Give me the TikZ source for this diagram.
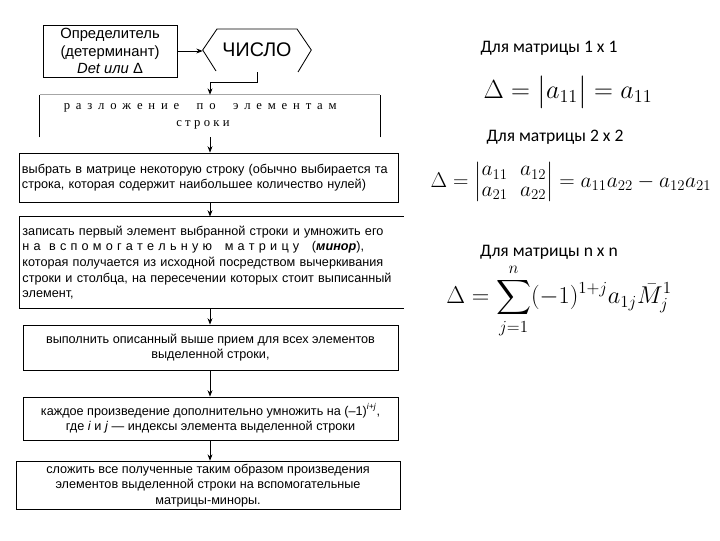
\documentclass[tikz,border=0pt]{standalone}
\usepackage{fontspec}
\usepackage{amsmath}
\usepackage{graphicx}
\usepackage{tikz}
\usetikzlibrary{arrows.meta,positioning,calc}
\newfontfamily\flowfont{Liberation Sans}
\newfontfamily\serffont{Liberation Serif}
\newfontfamily\calfont{Carlito}
\tikzset{
  stepbox/.style={rectangle, draw=black, line width=0.6pt, inner sep=2pt,
                  font=\flowfont\fontsize{9}{11.1}\selectfont},
  flow/.style={-{Stealth[length=4.5pt,width=3.5pt]}, line width=0.6pt, black},
  caption/.style={font=\calfont\fontsize{12.5}{14}\selectfont},
  formula/.style={font=\LARGE, inner sep=0pt},
}

\begin{document}
\begin{tikzpicture}[x=0.025cm, y=-0.025cm]
\useasboundingbox (0,0) rectangle (720,540);

% ── top row: definition and result ─────────────────────────
\node[stepbox, minimum width=3.35cm, minimum height=1.3cm, align=center,
      font=\flowfont\fontsize{10.5}{12.5}\selectfont] (det) at (110,51)
      {Определитель\\(детерминант)\\\textit{Det или} Δ};
\node[minimum width=2.7cm, minimum height=1.1cm,
      font=\flowfont\fontsize{14}{16}\selectfont] (chislo) at (257,50) {ЧИСЛО};
\draw[line width=0.6pt] (216,71) -- (chislo.west) -- (217,29) -- (297,29)
      -- (chislo.east) -- (298,72);
\draw[flow] (det.east) -- (det.east -| chislo.west);

% ── expansion header (open box) ───────────────────────────
\node[minimum width=8.5cm, minimum height=1.05cm, align=center,
      font=\serffont\fontsize{9}{12}\selectfont] (razl) at (210,116)
      {\hspace*{-14pt}\makebox[194pt][s]{р а з л о ж е н и е \ \ п о \ \ э л е м е н т а м}\\
       \hspace*{-10pt}\makebox[38pt][s]{с т р о к и}};
\draw[line width=0.6pt] (razl.south west) -- (razl.north west);
\draw[line width=0.6pt] (razl.south east) -- (razl.north east);
\draw[black!35] (razl.north west) -- (razl.north east);
\draw[flow] (chislo.south) -- ++(0,10) -| (razl.north);

% ── steps ──────────────────────────────────────────────────
\node[stepbox, minimum width=9.45cm, minimum height=1.225cm,
      text width=9.35cm, align=left] (choose) at (209,177.5)
      {выбрать в матрице некоторую строку (обычно выбирается та\\
       строка, которая содержит наибольшее количество нулей)};
\node[stepbox, draw=none, minimum width=9.575cm, minimum height=2.275cm,
      text width=9.45cm, align=left] (minor) at (211.5,262.5)
      {записать первый элемент выбранной строки и умножить его\\
       \makebox[0.975\linewidth][s]{н а \ в с п о м о г а т е л ь н у ю \ \ м а т р и ц у \ \ (\textbf{\textit{минор}}),}\\
       которая получается из исходной посредством вычеркивания\\
       строки и столбца, на пересечении которых стоит выписанный\\
       элемент,};
\draw[line width=0.6pt] (minor.north east) -| (minor.south west) -- (minor.south east);
\node[stepbox, minimum width=9.375cm, minimum height=1.125cm, align=center]
      (repeat) at (210.5,347.5)
      {выполнить описанный выше прием для всех элементов\\выделенной строки,};
\node[stepbox, minimum width=9.375cm, minimum height=1.075cm, align=center]
      (sign) at (210.5,418.5)
      {каждое произведение дополнительно умножить на (–1)\textsuperscript{\textit{i+j}},\\
       где \textit{i} и \textit{j} — индексы элемента выделенной строки};
\node[stepbox, minimum width=9.6cm, minimum height=1.125cm, align=center]
      (summ) at (208,485.5)
      {сложить все полученные таким образом произведения\\
       элементов выделенной строки на вспомогательные\\матрицы-миноры.};

\draw[flow] (razl.south) -- (razl.south |- choose.north);
\draw[flow] (razl.south |- choose.south) -- (razl.south |- minor.north);
\draw[flow] (razl.south |- minor.south) -- (razl.south |- repeat.north);
\draw[flow] (razl.south |- repeat.south) -- (razl.south |- sign.north);
\draw[flow] (razl.south |- sign.south) -- (razl.south |- summ.north);

% ── formulas (right) ───────────────────────────────────────
\node[caption] (cap1) at (549,48) {Для матрицы 1 x 1};
\node[formula] (f1) at (568,92) {\scalebox{1.08}{$\Delta=\bigl|a_{11}\bigr|=a_{11}$}};
\node[caption] (cap2) at (555,137) {Для матрицы 2 x 2};
\node[formula] (f2) at (571,182)
      {\scalebox{0.88}{\renewcommand{\arraystretch}{0.75}%
       $\Delta=\begin{vmatrix}a_{11}&a_{12}\\a_{21}&a_{22}\end{vmatrix}=a_{11}a_{22}-a_{12}a_{21}$}};
\node[caption] (cap3) at (549,252) {Для матрицы n x n};
\node[formula] (f3) at (559,301)
      {$\displaystyle\Delta=\sum_{j=1}^{n}(-1)^{1+j}a_{1j}\bar{M}_j^1$};

\end{tikzpicture}
\end{document}
